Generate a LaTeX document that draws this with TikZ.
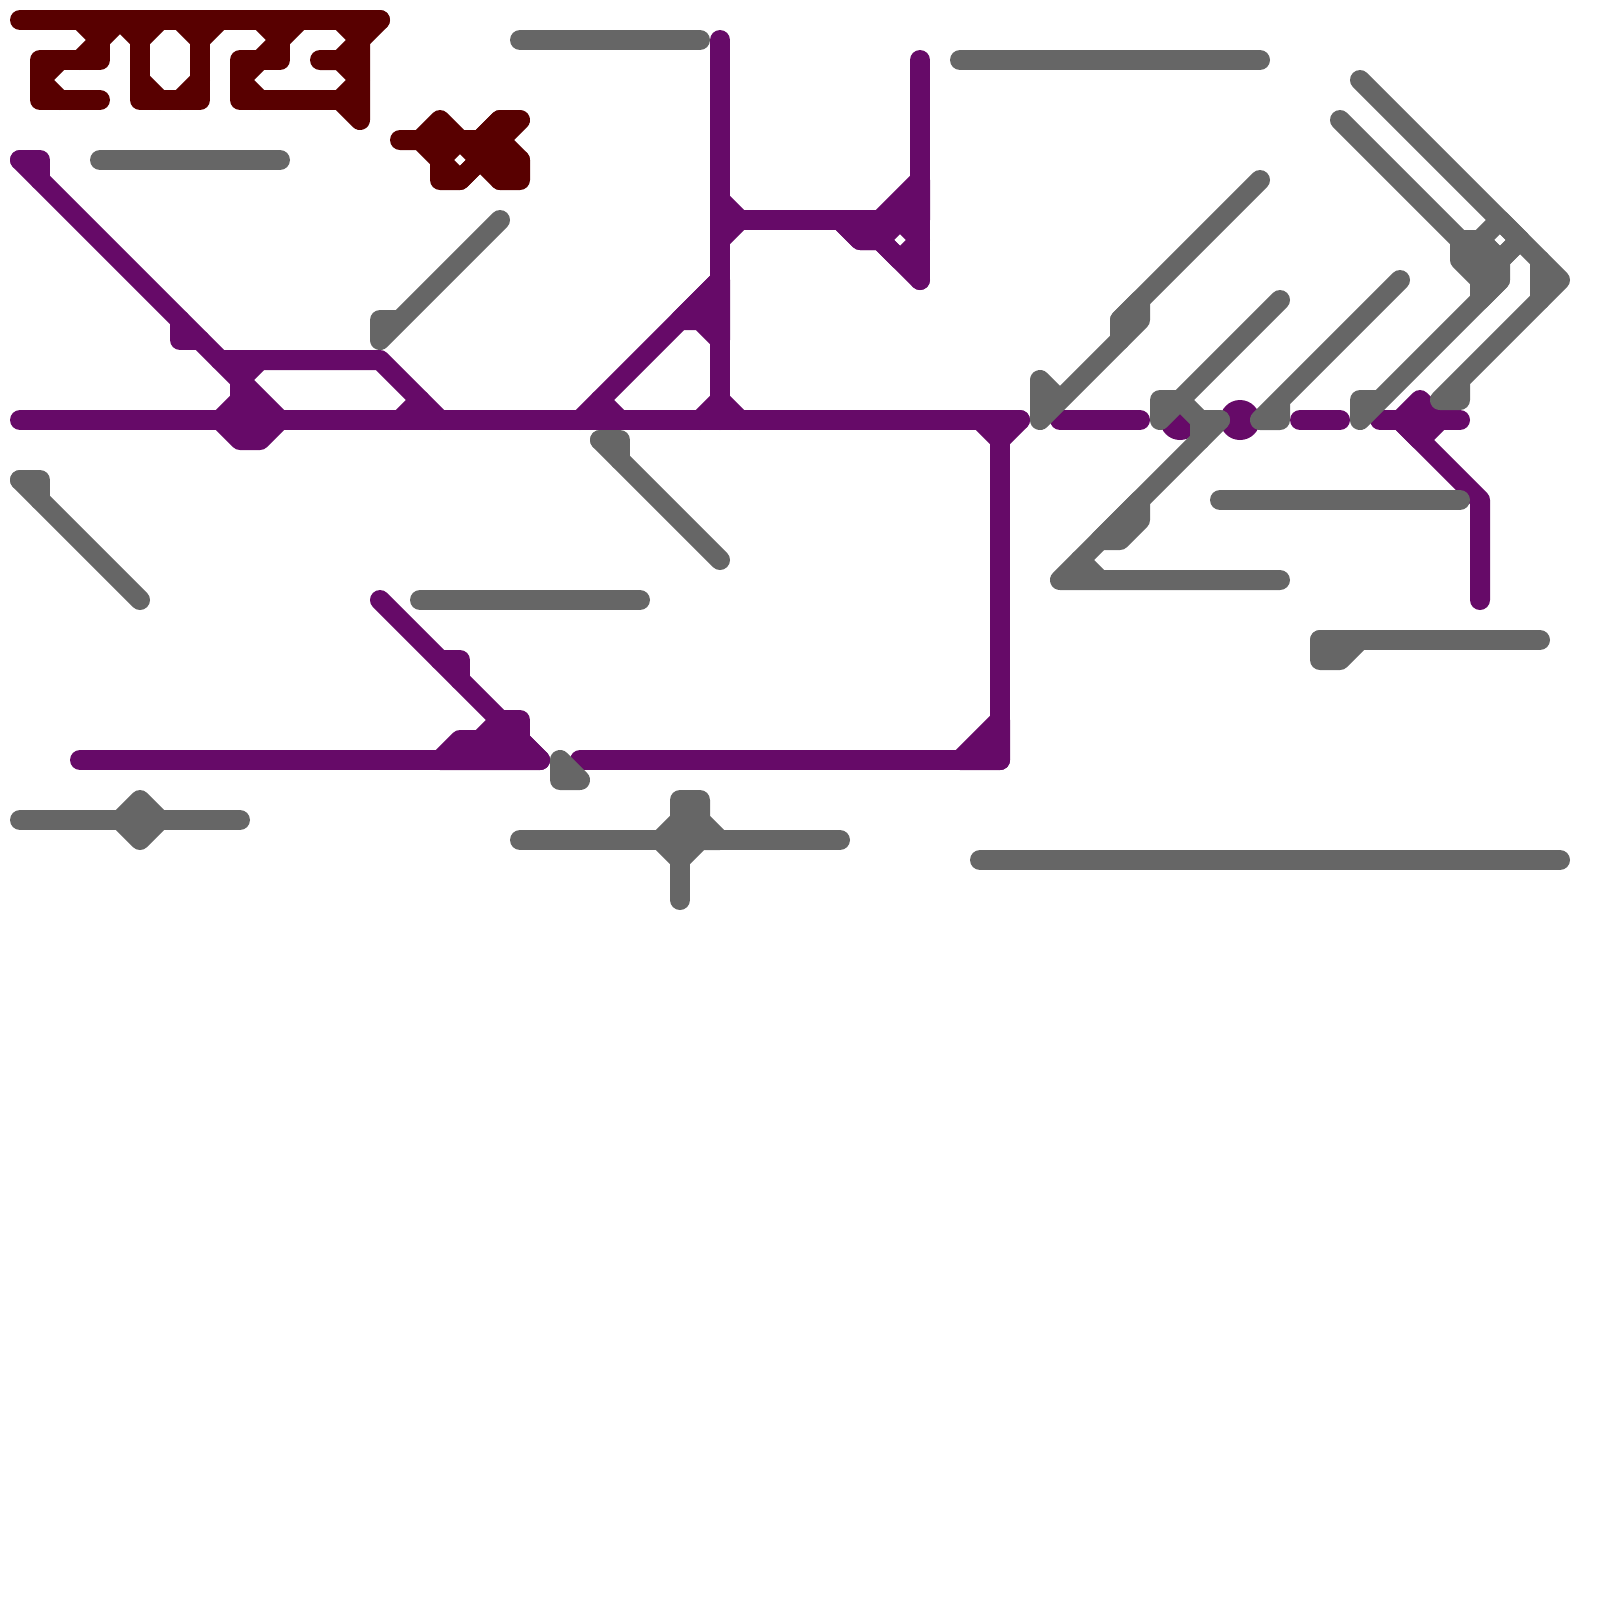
\documentclass[tikz,border=0pt]{standalone}
\definecolor{MapPurple}{RGB}{102,10,104}
\definecolor{MapDark}{RGB}{88,0,0}
\definecolor{MapGray}{RGB}{102,102,102}
\tikzset{
  purpleline/.style={draw=MapPurple},
  purpleblock/.style={draw=MapPurple,fill=MapPurple},
  darkline/.style={draw=MapDark},
  darkblock/.style={draw=MapDark,fill=MapDark},
  grayline/.style={draw=MapGray},
  grayblock/.style={draw=MapGray,fill=MapGray}
}

\begin{document}
\begin{tikzpicture}[x=0.2cm,y=-0.2cm,line width=0.2cm,line cap=round,line join=round]
  \useasboundingbox (0,0) rectangle (80,80);

  % title
  \foreach \seg in {
    {(1,1)--(19,1)},
    {(4,1)--(5,2)--(6,1)--(7,2)--(8,1)},
    {(5,2)--(5,3)--(2,3)--(2,5)--(5,5)},
    {(5,2)--(4,3)},
    {(3,3)--(2,4)--(3,5)},
    {(7,1)--(7,5)--(10,5)--(10,1)},
    {(7,4)--(8,5)},
    {(9,5)--(10,4)},
    {(9,1)--(10,2)--(11,1)},
    {(13,1)--(14,2)--(15,1)},
    {(14,2)--(14,3)--(12,3)--(12,5)--(17,5)},
    {(14,2)--(13,3)},
    {(13,3)--(12,4)--(13,5)},
    {(17,1)--(18,2)--(19,1)},
    {(16,3)--(17,3)--(18,2)--(18,6)--(17,5)},
    {(17,3)--(18,4)--(17,5)},
    {(20,7)--(21,7)--(22,6)--(23,7)--(24,7)--(25,6)--(26,6)--(25,7)--(26,8)--(26,9)--(25,9)--(24,8)--(23,9)--(22,9)--(22,8)--(21,7)},
    {(22,8)--(23,7)--(24,8)--(23,9)--cycle},
    {(21,7)--(24,7)},
    {(22,7)--(22,8)},
    {(25,6)--(24,7)--(25,7)--(25,9)},
    {(24,8)--(26,8)}
  } {
    \draw[darkline] \seg;
  }

  % dots under the gray ends
  \fill[MapPurple] (59,21) circle (1);
  \fill[MapPurple] (62,21) circle (1);

  \foreach \seg in {
    {(1,21)--(51,21)},
    {(1,8)--(2,8)--(2,9)},
    {(1,8)--(12,19)},
    {(9,16)--(9,17)--(10,17)},
    {(11,18)--(19,18)--(22,21)},
    {(13,18)--(12,19)},
    {(20,21)--(21,20)},
    {(36,2)--(36,21)},
    {(36,10)--(37,11)--(36,12)},
    {(37,11)--(44,11)},
    {(46,3)--(46,14)},
    {(44,12)--(45,11)--(46,12)--(45,13)--cycle},
    {(42,11)--(43,12)--(44,12)--(46,14)},
    {(29,21)--(36,14)},
    {(30,20)--(31,21)},
    {(35,21)--(36,20)--(37,21)},
    {(49,21)--(50,22)--(51,21)},
    {(50,21)--(50,38)},
    {(29,38)--(50,38)},
    {(4,38)--(27,38)},
    {(19,30)--(27,38)},
    {(22,33)--(23,33)--(23,34)},
    {(25,36)--(26,36)--(26,37)},
    {(65,21)--(67,21)},
    {(53,21)--(57,21)},
    {(69,21)--(73,21)},
    {(70,21)--(74,25)--(74,30)}
  } {
    \draw[purpleline] \seg;
  }
  \foreach \seg in {
    {(12,19)--(14,21)--(13,22)--(12,22)--(11,21)--(12,20)--cycle},
    {(44,11)--(46,9)--(46,11)--cycle},
    {(42,11)--(44,11)--(44,12)--(43,12)--cycle},
    {(34,16)--(36,14)--(36,17)--(35,16)--cycle},
    {(22,38)--(23,37)--(24,37)--(25,36)--(26,37)--(27,38)--cycle},
    {(48,38)--(50,36)--(50,38)--cycle},
    {(70,21)--(71,20)--(72,21)--(71,22)--cycle}
  } {
    \draw[purpleblock] \seg;
  }

  \foreach \seg in {
    {(5,8)--(14,8)},
    {(25,11)--(19,17)--(19,16)--(20,16)},
    {(26,2)--(35,2)},
    {(48,3)--(63,3)},
    {(21,30)--(32,30)},
    {(1,24)--(2,24)--(2,25)},
    {(1,24)--(7,30)},
    {(30,22)--(31,22)--(31,23)},
    {(30,22)--(36,28)},
    {(1,41)--(12,41)},
    {(26,42)--(42,42)},
    {(34,43)--(34,45)},
    {(49,43)--(78,43)},
    {(63,9)--(56,16)--(56,17)--(52,21)--(52,19)--(53,20)},
    {(64,15)--(58,21)--(58,20)--(59,20)--(60,21)--(61,21)},
    {(60,21)--(60,22)},
    {(61,21)--(53,29)--(64,29)},
    {(54,28)--(55,29)},
    {(70,14)--(63,21)--(64,21)--(64,20)},
    {(61,25)--(73,25)},
    {(66,32)--(77,32)},
    {(68,4)--(78,14)--(72,20)--(73,20)--(73,19)},
    {(77,13)--(77,15)},
    {(67,6)--(73,12)},
    {(74,12)--(75,11)--(76,12)--(75,13)--cycle},
    {(76,12)--(74,14)},
    {(75,14)--(68,21)--(68,20)--(69,20)}
  } {
    \draw[grayline] \seg;
  }
  \foreach \seg in {
    {(6,41)--(7,40)--(8,41)--(7,42)--cycle},
    {(28,38)--(28,39)--(29,39)--cycle},
    {(34,40)--(35,40)--(35,41)--(36,42)--(35,42)--(34,43)--(33,42)--(34,41)--cycle},
    {(56,16)--(57,15)--(57,16)--(56,17)--cycle},
    {(55,27)--(56,27)--(57,26)--(57,25)--cycle},
    {(66,32)--(68,32)--(67,33)--(66,33)--cycle},
    {(73,12)--(74,12)--(75,13)--(75,14)--(74,15)--(74,14)--(73,13)--cycle}
  } {
    \draw[grayblock] \seg;
  }
\end{tikzpicture}
\end{document}
